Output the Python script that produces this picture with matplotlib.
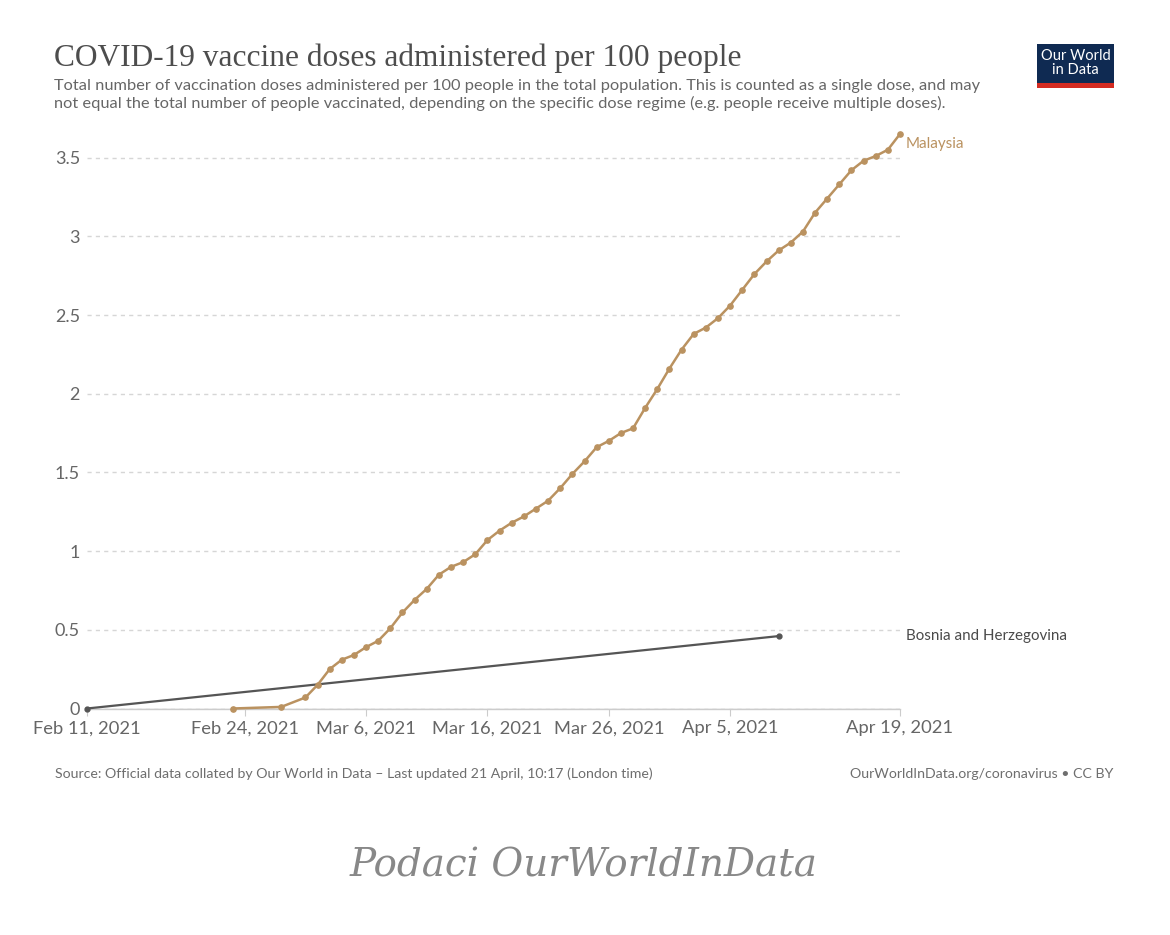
import matplotlib
matplotlib.use("Agg")
import matplotlib.pyplot as plt
from matplotlib.patches import Rectangle
import pandas as pd

W, H = 1170, 935

malaysia_dates = ["2021-02-23", "2021-02-27", "2021-03-01", "2021-03-02", "2021-03-03",
                  "2021-03-04", "2021-03-05", "2021-03-06", "2021-03-07", "2021-03-08",
                  "2021-03-09", "2021-03-10", "2021-03-11", "2021-03-12", "2021-03-13",
                  "2021-03-14", "2021-03-15", "2021-03-16", "2021-03-17", "2021-03-18",
                  "2021-03-19", "2021-03-20", "2021-03-21", "2021-03-22", "2021-03-23",
                  "2021-03-24", "2021-03-25", "2021-03-26", "2021-03-27", "2021-03-28",
                  "2021-03-29", "2021-03-30", "2021-03-31", "2021-04-01", "2021-04-02",
                  "2021-04-03", "2021-04-04", "2021-04-05", "2021-04-06", "2021-04-07",
                  "2021-04-08", "2021-04-09", "2021-04-10", "2021-04-11", "2021-04-12",
                  "2021-04-13", "2021-04-14", "2021-04-15", "2021-04-16", "2021-04-17",
                  "2021-04-18", "2021-04-19"]
malaysia_values = [0.00, 0.01, 0.07, 0.15, 0.25,
                   0.31, 0.34, 0.39, 0.43, 0.51,
                   0.61, 0.69, 0.76, 0.85, 0.90,
                   0.93, 0.98, 1.07, 1.13, 1.18,
                   1.22, 1.27, 1.32, 1.40, 1.49,
                   1.57, 1.66, 1.70, 1.75, 1.78,
                   1.91, 2.03, 2.16, 2.28, 2.38,
                   2.42, 2.48, 2.56, 2.66, 2.76,
                   2.84, 2.91, 2.96, 3.03, 3.15,
                   3.24, 3.33, 3.42, 3.48, 3.51,
                   3.55, 3.65]

bosnia_dates = ["2021-02-11", "2021-04-09"]
bosnia_values = [0.0, 0.46]

x_tick_dates = ["2021-02-11", "2021-02-24", "2021-03-06", "2021-03-16",
                "2021-03-26", "2021-04-05", "2021-04-19"]
x_tick_labels = ["Feb 11, 2021", "Feb 24, 2021", "Mar 6, 2021", "Mar 16, 2021",
                 "Mar 26, 2021", "Apr 5, 2021", "Apr 19, 2021"]
y_ticks = [0, 0.5, 1, 1.5, 2, 2.5, 3, 3.5]
y_tick_labels = ["0", "0.5", "1", "1.5", "2", "2.5", "3", "3.5"]

title = "COVID-19 vaccine doses administered per 100 people"
subtitle = ("Total number of vaccination doses administered per 100 people in the total population. "
            "This is counted as a single dose, and may\nnot equal the total number of people vaccinated, "
            "depending on the specific dose regime (e.g. people receive multiple doses).")
source = "Source: Official data collated by Our World in Data – Last updated 21 April, 10:17 (London time)"
credit = "OurWorldInData.org/coronavirus • CC BY"
caption = "Podaci OurWorldInData"

MAL_COLOR = "#BA9260"
BIH_COLOR = "#555555"

plt.rcParams['font.family'] = ['Lato', 'DejaVu Sans']

fig = plt.figure(figsize=(W / 100, H / 100), dpi=100)
fig.patch.set_facecolor("white")


def fx(px):
    return px / W


def fy(py):
    return 1 - py / H


left, right, top, bottom = 87, 900, 134, 708.5
ax = fig.add_axes([fx(left), fy(bottom), fx(right) - fx(left), fy(top) - fy(bottom)])

md = pd.to_datetime(malaysia_dates)
bd = pd.to_datetime(bosnia_dates)
ax.plot(bd, bosnia_values, color=BIH_COLOR, lw=1.6, marker="o", ms=3.5, zorder=3, clip_on=False)
ax.plot(md, malaysia_values, color=MAL_COLOR, lw=1.8, marker="o", ms=3.8, zorder=4, clip_on=False)

ax.set_xlim(pd.Timestamp("2021-02-11"), pd.Timestamp("2021-04-19"))
ax.set_ylim(0, (bottom - top) / 157.4)

ax.set_yticks(y_ticks)
ax.set_yticklabels(y_tick_labels)
ax.set_xticks(pd.to_datetime(x_tick_dates))
ax.set_xticklabels(x_tick_labels)

for s in ["top", "right", "left"]:
    ax.spines[s].set_visible(False)
ax.spines["bottom"].set_color("#cccccc")
ax.spines["bottom"].set_linewidth(1)

ax.yaxis.grid(True, color="#d6d6d6", ls=(0, (3, 3)), lw=1)
ax.set_axisbelow(True)
ax.tick_params(axis="y", length=0, pad=5, labelsize=13, labelcolor="#666666")
ax.tick_params(axis="x", length=5, direction="out", color="#cccccc", pad=3.5,
               labelsize=13.2, labelcolor="#666666")
ax.axhline(0, color="#cccccc", lw=1, zorder=1)

# Series labels
ax.annotate("Malaysia", xy=(md[-1], malaysia_values[-1]), xytext=(4, -7),
            textcoords="offset points", color=MAL_COLOR, fontsize=10.9, va="center",
            ha="left", annotation_clip=False)
fig.text(fx(906), fy(636), "Bosnia and Herzegovina", color="#4a4a4a", fontsize=10.9,
         va="center", ha="left")

# Title / subtitle
fig.text(fx(54), fy(58), title, family=["Liberation Serif", "DejaVu Serif"], fontsize=22.6,
         color="#4d4d4d", va="center", ha="left")
fig.text(fx(54), fy(95), subtitle, fontsize=11.75, color="#666666", va="center", ha="left",
         linespacing=1.3)

# Logo
logo_x0, logo_x1, logo_y0, logo_y1 = 1037, 1114, 44, 88
fig.patches.append(Rectangle((fx(logo_x0), fy(logo_y1)), fx(logo_x1) - fx(logo_x0),
                             fy(logo_y0) - fy(logo_y1), transform=fig.transFigure,
                             facecolor="#0f2a52", edgecolor="none"))
fig.patches.append(Rectangle((fx(logo_x0), fy(logo_y1)), fx(logo_x1) - fx(logo_x0),
                             fy(83) - fy(logo_y1), transform=fig.transFigure,
                             facecolor="#d42b21", edgecolor="none"))
fig.text(fx(1075.5), fy(63), "Our World\nin Data", color="white", fontsize=10.5,
         ha="center", va="center", linespacing=0.95)

# Footer
fig.text(fx(55), fy(774), source, fontsize=10.2, color="#6e6e6e", va="center", ha="left")
fig.text(fx(1113), fy(774), credit, fontsize=10.2, color="#6e6e6e", va="center", ha="right")

# Caption
fig.text(fx(584), fy(866), caption, family=["DejaVu Serif"], style="italic",
         fontsize=28, color="#888888", va="center", ha="center")

fig.savefig("out.png", dpi=100, facecolor="white")
